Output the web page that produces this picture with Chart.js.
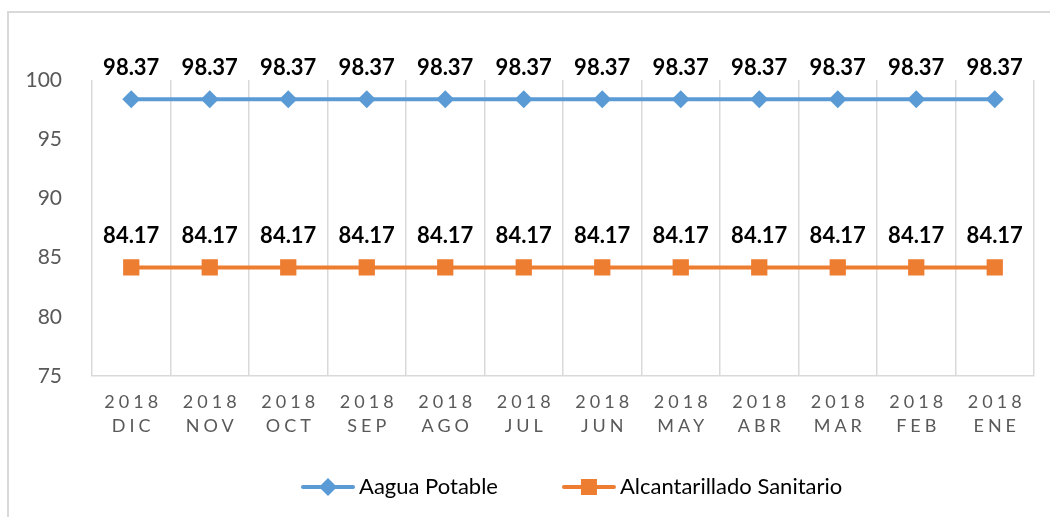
<!DOCTYPE html>
<html>
<head>
<meta charset="utf-8">
<script src="https://cdn.jsdelivr.net/npm/chart.js@4.4.1/dist/chart.umd.min.js"></script>
<style>
  html, body { margin: 0; padding: 0; background: #fff; }
  #wrap { width: 1050px; height: 517px; position: relative; }
</style>
</head>
<body>
<div id="wrap"><canvas id="chart"></canvas></div>
<script>
// datos
const years = ["2018", "2018", "2018", "2018", "2018", "2018", "2018", "2018", "2018", "2018", "2018", "2018"];
const months = ["DIC", "NOV", "OCT", "SEP", "AGO", "JUL", "JUN", "MAY", "ABR", "MAR", "FEB", "ENE"];
const aguaPotable = [98.37, 98.37, 98.37, 98.37, 98.37, 98.37, 98.37, 98.37, 98.37, 98.37, 98.37, 98.37];
const alcantarillado = [84.17, 84.17, 84.17, 84.17, 84.17, 84.17, 84.17, 84.17, 84.17, 84.17, 84.17, 84.17];
const yTicks = [75, 80, 85, 90, 95, 100];

const AZUL = "#5B9BD5";
const NARANJA = "#ED7D31";
const FONT = "Lato, 'Open Sans', sans-serif";

// marcador: rombo o cuadro
function marcador(ctx, tipo, x, y, color) {
  ctx.fillStyle = color;
  if (tipo === "rectRot") {
    ctx.beginPath();
    ctx.moveTo(x, y - 9);
    ctx.lineTo(x + 9, y);
    ctx.lineTo(x, y + 9);
    ctx.lineTo(x - 9, y);
    ctx.closePath();
    ctx.fill();
  } else {
    ctx.fillRect(x - 8, y - 8, 16, 16);
  }
}

// marco gris alrededor del grafico
const marco = {
  id: "marco",
  beforeDraw(chart) {
    const ctx = chart.ctx;
    ctx.save();
    ctx.strokeStyle = "#d9d9d9";
    ctx.lineWidth = 2;
    ctx.strokeRect(8, 12, 1200, 700);
    ctx.restore();
  }
};

// etiquetas del eje x en dos lineas con espaciado de letras
const etiquetasX = {
  id: "etiquetasX",
  afterDraw(chart) {
    const ctx = chart.ctx;
    const x = chart.scales.x;
    ctx.save();
    ctx.font = "18px " + FONT;
    ctx.fillStyle = "#595959";
    ctx.textAlign = "center";
    ctx.textBaseline = "middle";
    ctx.letterSpacing = "4px";
    months.forEach((m, i) => {
      const px = x.getPixelForValue(i) + 2;
      ctx.fillText(years[i], px, x.top + 26);
      ctx.fillText(m, px, x.top + 50);
    });
    ctx.restore();
  }
};

// valores encima de cada punto
const valores = {
  id: "valores",
  afterDatasetsDraw(chart) {
    const ctx = chart.ctx;
    ctx.save();
    ctx.font = "bold 22px " + FONT;
    ctx.fillStyle = "#000";
    ctx.textAlign = "center";
    ctx.textBaseline = "alphabetic";
    chart.data.datasets.forEach((ds, di) => {
      const meta = chart.getDatasetMeta(di);
      meta.data.forEach((pt, i) => {
        ctx.fillText(ds.data[i].toFixed(2), pt.x, pt.y - 24);
      });
    });
    ctx.restore();
  }
};

// leyenda abajo: linea con marcador y texto
const leyenda = {
  id: "leyenda",
  afterDraw(chart) {
    const ctx = chart.ctx;
    ctx.save();
    ctx.font = "22px " + FONT;
    ctx.textBaseline = "middle";
    ctx.textAlign = "left";
    let x = 301;
    const y = 487;
    chart.data.datasets.forEach((ds) => {
      ctx.strokeStyle = ds.borderColor;
      ctx.lineWidth = 4;
      ctx.lineCap = "round";
      ctx.beginPath();
      ctx.moveTo(x + 2, y);
      ctx.lineTo(x + 52, y);
      ctx.stroke();
      marcador(ctx, ds.pointStyle, x + 27, y, ds.borderColor);
      ctx.fillStyle = "#000";
      ctx.fillText(ds.label, x + 58, y);
      x += 58 + ctx.measureText(ds.label).width + 64;
    });
    ctx.restore();
  }
};

const ctx = document.getElementById("chart").getContext("2d");
const chart = new Chart(ctx, {
  type: "line",
  data: {
    labels: months,
    datasets: [
      {
        label: "Aagua Potable",
        data: aguaPotable,
        borderColor: AZUL,
        backgroundColor: AZUL,
        borderWidth: 4,
        pointStyle: "rectRot",
        pointRadius: 9,
        pointBorderWidth: 0
      },
      {
        label: "Alcantarillado Sanitario",
        data: alcantarillado,
        borderColor: NARANJA,
        backgroundColor: NARANJA,
        borderWidth: 4,
        pointStyle: "rect",
        pointRadius: 11.5,
        pointBorderWidth: 0
      }
    ]
  },
  options: {
    responsive: true,
    maintainAspectRatio: false,
    animation: false,
    layout: { padding: { top: 80, right: 16, left: 0, bottom: 60 } },
    plugins: {
      tooltip: { enabled: false },
      legend: { display: false }
    },
    scales: {
      x: {
        offset: true,
        grid: { display: true, offset: true, color: "#d9d9d9", lineWidth: 1.5, drawTicks: false },
        border: { display: true, color: "#d9d9d9", width: 1.5 },
        ticks: { display: false },
        afterFit(scale) { scale.height = 81; }
      },
      y: {
        min: 75,
        max: 100,
        grid: { display: false },
        border: { display: false },
        afterBuildTicks(scale) { scale.ticks = yTicks.map(v => ({ value: v })); },
        ticks: {
          color: "#595959",
          padding: 22,
          font: { family: FONT, size: 21 }
        },
        afterFit(scale) { scale.width = 92; }
      }
    }
  },
  plugins: [marco, etiquetasX, valores, leyenda]
});
</script>
</body>
</html>
